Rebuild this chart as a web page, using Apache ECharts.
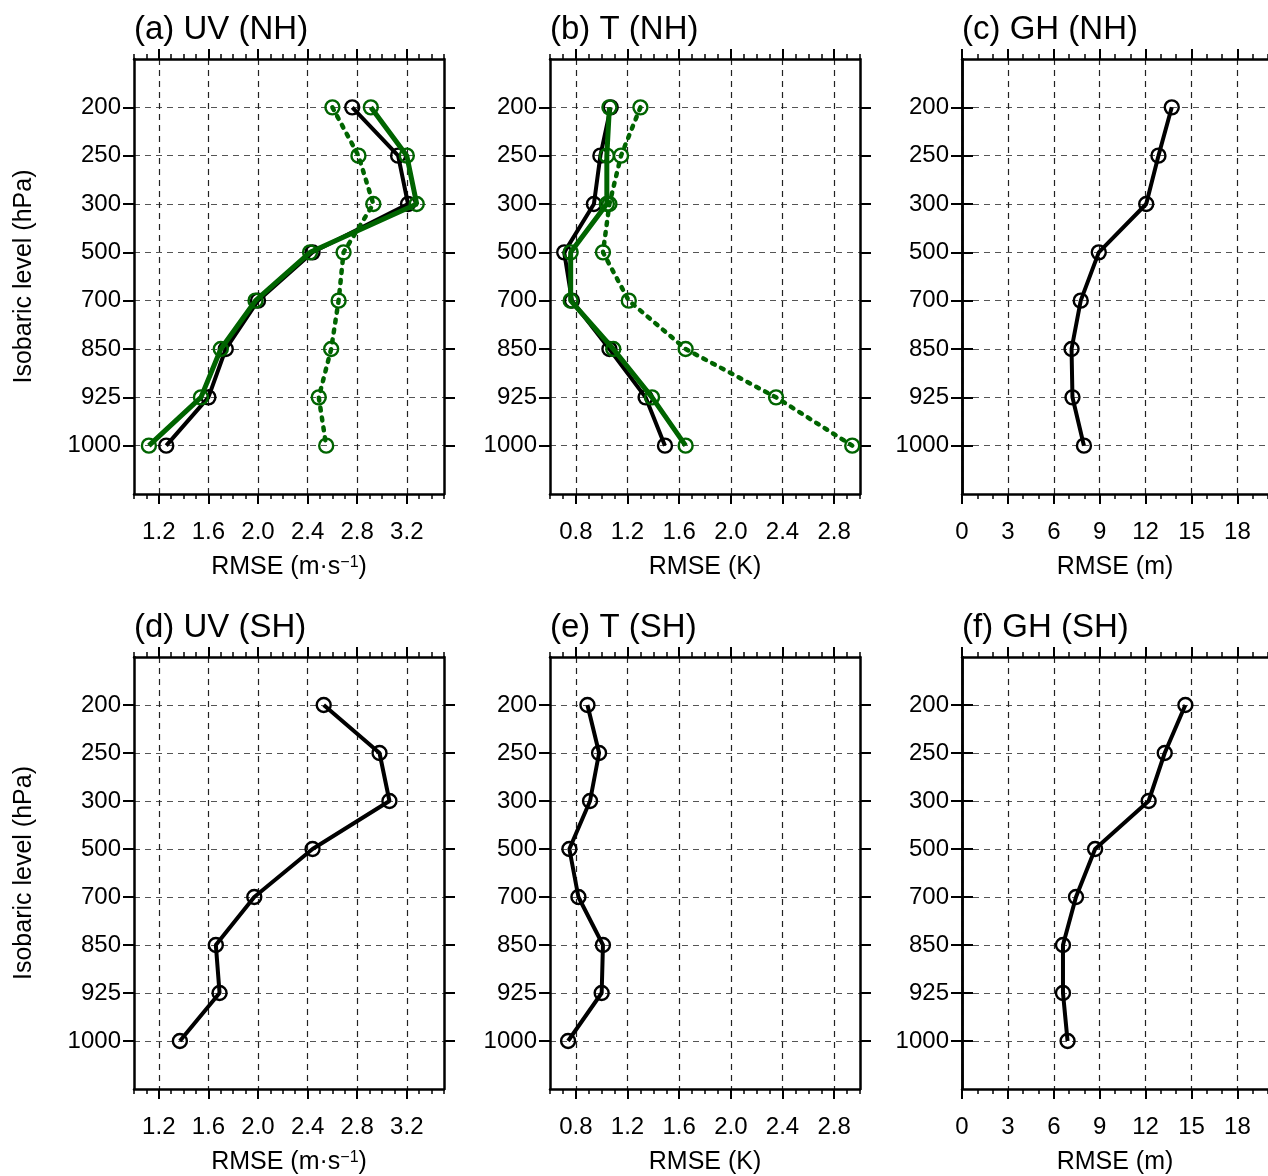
<!DOCTYPE html>
<html>
<head>
<meta charset="utf-8">
<script src="https://cdn.jsdelivr.net/npm/echarts@6/dist/echarts.min.js"></script>
<style>
  html, body { margin: 0; padding: 0; background: #fff; }
  #chart { width: 1268px; height: 1176px; }
</style>
</head>
<body>
<div id="chart"></div>
<script>
// pressure levels (top to bottom)
var levels = ['200', '250', '300', '500', '700', '850', '925', '1000'];

// (a) UV NH
var uvNH_ctrl = [2.76, 3.13, 3.21, 2.44, 2.00, 1.74, 1.60, 1.26];
var uvNH_exp  = [2.91, 3.20, 3.28, 2.42, 1.98, 1.70, 1.54, 1.12];
var uvNH_dot  = [2.60, 2.81, 2.93, 2.69, 2.65, 2.59, 2.49, 2.55];
// (b) T NH
var tNH_ctrl = [1.07, 0.99, 0.94, 0.71, 0.77, 1.06, 1.34, 1.49];
var tNH_exp  = [1.06, 1.04, 1.04, 0.76, 0.76, 1.09, 1.39, 1.65];
var tNH_dot  = [1.30, 1.15, 1.06, 1.01, 1.21, 1.65, 2.35, 2.94];
// (c) GH NH
var ghNH = [13.71, 12.84, 12.04, 8.94, 7.76, 7.16, 7.22, 7.97];
// (d)-(f) SH
var uvSH = [2.53, 2.98, 3.06, 2.44, 1.97, 1.66, 1.69, 1.37];
var tSH  = [0.89, 0.98, 0.91, 0.75, 0.82, 1.01, 1.00, 0.74];
var ghSH = [14.6, 13.25, 12.2, 8.7, 7.45, 6.6, 6.6, 6.9];

// x tick labels
var uvTicks = [1.2, 1.6, 2.0, 2.4, 2.8, 3.2];
var tTicks  = [0.8, 1.2, 1.6, 2.0, 2.4, 2.8];
var ghTicks = [0, 3, 6, 9, 12, 15, 18];

var FONT = 'Liberation Sans';
var GREEN = '#006400';
var yCats = [' '].concat(levels).concat(['  ']);
function inner(idx) { return idx > 0 && idx < yCats.length - 1; }

var panels = [
  { title: '(a) UV (NH)', left: 134, top: 59, min: 1.0, max: 3.5, minor: 0.1, ticks: uvTicks, dec: 1, unit: 'uv', yName: true,
    lines: [[uvNH_ctrl, '#000', 'solid'], [uvNH_exp, GREEN, 'solid'], [uvNH_dot, GREEN, 'dot']] },
  { title: '(b) T (NH)', left: 550, top: 59, min: 0.6, max: 3.0, minor: 0.1, ticks: tTicks, dec: 1, unit: 'K',
    lines: [[tNH_ctrl, '#000', 'solid'], [tNH_exp, GREEN, 'solid'], [tNH_dot, GREEN, 'dot']] },
  { title: '(c) GH (NH)', left: 962, top: 59, min: 0, max: 20, minor: 1, ticks: ghTicks, dec: 0, unit: 'm',
    lines: [[ghNH, '#000', 'solid']] },
  { title: '(d) UV (SH)', left: 134, top: 657, min: 1.0, max: 3.5, minor: 0.1, ticks: uvTicks, dec: 1, unit: 'uv', yName: true,
    lines: [[uvSH, '#000', 'solid']] },
  { title: '(e) T (SH)', left: 550, top: 657, min: 0.6, max: 3.0, minor: 0.1, ticks: tTicks, dec: 1, unit: 'K',
    lines: [[tSH, '#000', 'solid']] },
  { title: '(f) GH (SH)', left: 962, top: 657, min: 0, max: 20, minor: 1, ticks: ghTicks, dec: 0, unit: 'm',
    lines: [[ghSH, '#000', 'solid']] }
];

var option = {
  backgroundColor: '#fff',
  animation: false,
  textStyle: { fontFamily: FONT },
  title: [], grid: [], xAxis: [], yAxis: [], series: []
};

var frame = { show: true, lineStyle: { color: '#000', width: 2.5 } };

panels.forEach(function (p, i) {
  option.title.push({
    text: p.title, left: p.left - 5, top: p.top - 51,
    textStyle: { fontFamily: FONT, fontSize: 33, fontWeight: 'normal', color: '#000' }
  });
  option.grid.push({ left: p.left, top: p.top, width: 310, height: 435 });

  var xname = p.unit === 'uv' ? 'RMSE (m·s{sup|−1})' : 'RMSE (' + p.unit + ')';
  var fmt = function (v) { return Number(v).toFixed(p.dec); };

  // bottom major
  option.xAxis.push({
    type: 'value', gridIndex: i, position: 'bottom', min: p.min, max: p.max,
    axisLine: frame,
    axisTick: { show: true, customValues: p.ticks, length: 10, lineStyle: { color: '#000', width: 2 } },
    axisLabel: { customValues: p.ticks, formatter: fmt, fontSize: 24, color: '#000', margin: 26, fontFamily: FONT },
    splitLine: { show: true, lineStyle: { color: '#222', width: 1.2, type: [6, 5] } },
    name: xname, nameLocation: 'middle', nameGap: 61,
    nameTextStyle: { fontSize: 25, color: '#000', fontFamily: FONT,
      rich: { sup: { fontSize: 16, verticalAlign: 'top', lineHeight: 13, color: '#000', fontFamily: FONT } } }
  });
  // bottom minor
  option.xAxis.push({
    type: 'value', gridIndex: i, position: 'bottom', min: p.min, max: p.max, interval: p.minor,
    axisLine: { show: false },
    axisTick: { show: true, length: 5, lineStyle: { color: '#000', width: 1.5 } },
    axisLabel: { show: false }, splitLine: { show: false }
  });
  // top major
  option.xAxis.push({
    type: 'value', gridIndex: i, position: 'top', min: p.min, max: p.max,
    axisLine: frame,
    axisTick: { show: true, customValues: p.ticks, length: 10, lineStyle: { color: '#000', width: 2 } },
    axisLabel: { show: false }, splitLine: { show: false }
  });
  // top minor
  option.xAxis.push({
    type: 'value', gridIndex: i, position: 'top', min: p.min, max: p.max, interval: p.minor,
    axisLine: { show: false },
    axisTick: { show: true, length: 5, lineStyle: { color: '#000', width: 1.5 } },
    axisLabel: { show: false }, splitLine: { show: false }
  });

  var yLeft = {
    type: 'category', gridIndex: i, position: 'left', data: yCats, inverse: true, boundaryGap: false,
    axisLine: frame,
    axisTick: { show: true, interval: inner, length: 11, lineStyle: { color: '#000', width: 2 } },
    axisLabel: { interval: inner, fontSize: 24, color: '#000', margin: 13, fontFamily: FONT },
    splitLine: { show: true, interval: inner, lineStyle: { color: '#555', width: 1.2, type: [6, 5] } }
  };
  if (p.yName) {
    yLeft.name = 'Isobaric level (hPa)';
    yLeft.nameLocation = 'middle';
    yLeft.nameRotate = 90;
    yLeft.nameGap = 97;
    yLeft.nameTextStyle = { fontSize: 25, color: '#000', fontFamily: FONT };
  }
  option.yAxis.push(yLeft);
  option.yAxis.push({
    type: 'category', gridIndex: i, position: 'right', data: yCats, inverse: true, boundaryGap: false,
    axisLine: frame,
    axisTick: { show: true, interval: inner, length: 11, lineStyle: { color: '#000', width: 2 } },
    axisLabel: { show: false }, splitLine: { show: false }
  });

  p.lines.forEach(function (ln, k) {
    var dotted = ln[2] === 'dot';
    option.series.push({
      type: 'line', xAxisIndex: i * 4, yAxisIndex: i * 2,
      data: ln[0].map(function (v, j) { return [v, j + 1]; }),
      symbol: 'circle', symbolSize: 14,
      itemStyle: { color: 'rgba(0,0,0,0)', borderColor: ln[1], borderWidth: 2.4 },
      lineStyle: dotted
        ? { color: ln[1], width: 4.5, type: [3, 7], cap: 'round' }
        : { color: ln[1], width: ln[1] === '#000' ? 4 : 5 },
      z: 3 + k, silent: true
    });
  });
});

var chart = echarts.init(document.getElementById('chart'));
chart.setOption(option);
</script>
</body>
</html>
